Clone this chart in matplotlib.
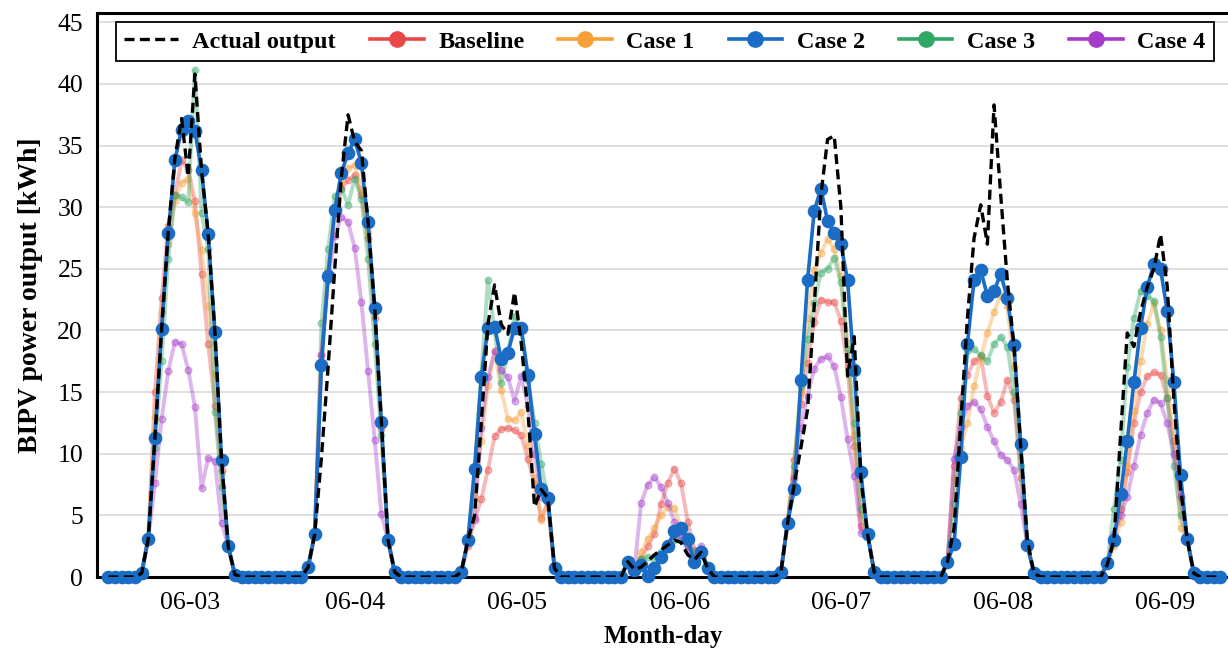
import matplotlib
matplotlib.use("Agg")
import matplotlib.pyplot as plt
from matplotlib.lines import Line2D
import numpy as np

plt.rcParams['font.family'] = ['Liberation Serif', 'DejaVu Serif']

day_labels = ["06-03", "06-04", "06-05", "06-06", "06-07", "06-08", "06-09"]
day_ticks = [12.3, 37.0, 61.3, 85.8, 110.1, 134.4, 158.7]

# hourly BIPV output [kWh], one row per day (00h..23h)
actual = [
    0, 0, 0, 0, 0, 0.3, 3.1, 11.3, 20.1, 28.0, 34.0, 37.2, 32.5, 40.8, 33.0, 27.8, 19.9, 9.5, 2.5, 0.2, 0, 0, 0, 0,
    0, 0, 0, 0, 0, 0, 0.8, 3.5, 9.7, 17.0, 25.0, 32.5, 37.5, 35.3, 34.6, 28.8, 21.8, 12.6, 3.0, 0.4, 0, 0, 0, 0,
    0, 0, 0, 0, 0, 0.4, 3.0, 5.0, 12.5, 20.5, 23.7, 20.5, 19.7, 23.1, 19.0, 13.5, 5.7, 7.1, 6.4, 0.7, 0, 0, 0, 0,
    0, 0, 0, 0, 0, 0, 1.25, 0.6, 0.8, 1.3, 1.8, 2.2, 2.6, 3.0, 2.8, 1.8, 1.4, 2.0, 0.7, 0, 0, 0, 0, 0,
    0, 0, 0, 0, 0, 0.4, 4.4, 7.5, 10.5, 13.6, 22.0, 31.0, 35.5, 35.8, 30.0, 16.3, 19.5, 8.0, 3.5, 0.4, 0, 0, 0, 0,
    0, 0, 0, 0, 0, 0, 1.2, 4.0, 12.5, 21.0, 27.5, 30.2, 27.0, 38.3, 31.0, 24.0, 18.7, 10.6, 3.0, 0.3, 0, 0, 0, 0,
    0, 0, 0, 0, 0, 0, 1.0, 3.0, 11.5, 19.8, 18.7, 21.5, 23.5, 25.0, 27.8, 23.6, 14.4, 7.2, 3.1, 0.3, 0, 0, 0, 0,
]
baseline = [
    0, 0, 0, 0, 0, 0.3, 3.2, 15.0, 22.6, 28.5, 31.0, 33.8, 33.0, 30.5, 24.6, 18.9, 13.9, 8.7, 2.5, 0.2, 0, 0, 0, 0,
    0, 0, 0, 0, 0, 0, 0.8, 3.5, 18.0, 24.5, 29.5, 31.5, 32.2, 32.6, 31.0, 27.5, 21.0, 12.0, 3.0, 0.4, 0, 0, 0, 0,
    0, 0, 0, 0, 0, 0.3, 2.5, 4.6, 6.3, 8.7, 11.4, 12.0, 12.1, 11.9, 11.5, 9.6, 7.5, 4.8, 6.0, 0.7, 0, 0, 0, 0,
    0, 0, 0, 0, 0, 0, 1.25, 0.6, 1.5, 2.5, 3.5, 5.9, 7.6, 8.8, 7.6, 4.5, 2.2, 2.3, 0.7, 0, 0, 0, 0, 0,
    0, 0, 0, 0, 0, 0.4, 4.4, 9.5, 14.0, 17.4, 20.7, 22.5, 22.3, 22.3, 20.8, 17.1, 10.6, 4.1, 3.5, 0.4, 0, 0, 0, 0,
    0, 0, 0, 0, 0, 0, 1.2, 9.0, 14.5, 16.4, 17.5, 17.9, 14.7, 13.3, 14.2, 16.0, 14.4, 8.0, 2.6, 0.3, 0, 0, 0, 0,
    0, 0, 0, 0, 0, 0, 1.1, 3.2, 5.5, 8.5, 12.5, 15.0, 16.3, 16.6, 16.4, 14.5, 11.0, 6.5, 3.1, 0.3, 0, 0, 0, 0,
]
case1 = [
    0, 0, 0, 0, 0, 0.3, 3.2, 13.0, 21.5, 27.0, 30.5, 32.0, 32.3, 29.5, 26.5, 22.0, 16.5, 8.5, 2.5, 0.2, 0, 0, 0, 0,
    0, 0, 0, 0, 0, 0, 0.8, 3.5, 17.5, 24.8, 29.5, 32.0, 33.2, 33.4, 31.5, 28.0, 21.5, 12.5, 3.0, 0.4, 0, 0, 0, 0,
    0, 0, 0, 0, 0, 0.4, 3.0, 6.5, 11.0, 15.5, 18.3, 15.2, 12.8, 12.7, 13.4, 10.6, 8.0, 4.6, 6.0, 0.7, 0, 0, 0, 0,
    0, 0, 0, 0, 0, 0, 1.25, 0.6, 2.0, 3.1, 3.95, 5.0, 5.7, 5.6, 4.0, 2.8, 1.5, 2.2, 0.7, 0, 0, 0, 0, 0,
    0, 0, 0, 0, 0, 0.4, 4.4, 9.5, 15.0, 21.0, 24.9, 26.3, 27.4, 26.6, 24.4, 19.0, 11.5, 5.0, 3.5, 0.4, 0, 0, 0, 0,
    0, 0, 0, 0, 0, 0, 1.2, 8.0, 10.5, 12.5, 15.5, 17.8, 19.8, 21.5, 22.9, 22.0, 17.0, 10.5, 2.6, 0.3, 0, 0, 0, 0,
    0, 0, 0, 0, 0, 0, 1.1, 2.5, 4.5, 9.0, 13.5, 17.5, 20.5, 22.2, 20.0, 16.0, 11.0, 4.0, 3.1, 0.3, 0, 0, 0, 0,
]
case2 = [
    0, 0, 0, 0, 0, 0.3, 3.1, 11.3, 20.1, 27.9, 33.8, 36.3, 37.0, 36.2, 33.0, 27.8, 19.9, 9.5, 2.5, 0.2, 0, 0, 0, 0,
    0, 0, 0, 0, 0, 0, 0.8, 3.5, 17.2, 24.4, 29.8, 32.8, 34.4, 35.5, 33.6, 28.8, 21.8, 12.6, 3.0, 0.4, 0, 0, 0, 0,
    0, 0, 0, 0, 0, 0.4, 3.0, 8.8, 16.2, 20.2, 20.3, 17.7, 18.2, 20.2, 20.2, 16.4, 11.6, 7.1, 6.4, 0.7, 0, 0, 0, 0,
    0, 0, 0, 0, 0, 0, 1.25, 0.6, 1.0, 0.1, 0.75, 1.65, 2.5, 3.7, 4.0, 3.1, 1.2, 2.05, 0.7, 0, 0, 0, 0, 0,
    0, 0, 0, 0, 0, 0.4, 4.4, 7.1, 16.0, 24.1, 29.7, 31.5, 28.9, 27.9, 27.0, 24.1, 16.8, 8.5, 3.5, 0.4, 0, 0, 0, 0,
    0, 0, 0, 0, 0, 0, 1.2, 2.7, 9.7, 18.9, 24.1, 24.9, 22.8, 23.2, 24.6, 22.6, 18.8, 10.8, 2.6, 0.3, 0, 0, 0, 0,
    0, 0, 0, 0, 0, 0, 1.1, 3.0, 6.7, 11.0, 15.8, 20.2, 23.5, 25.4, 25.0, 21.6, 15.8, 8.3, 3.1, 0.3, 0, 0, 0, 0,
]
case3 = [
    0, 0, 0, 0, 0, 0.3, 3.2, 10.5, 17.5, 25.8, 31.0, 30.8, 30.4, 41.1, 29.5, 26.6, 13.4, 7.3, 2.5, 0.2, 0, 0, 0, 0,
    0, 0, 0, 0, 0, 0, 0.8, 3.5, 20.6, 26.6, 30.9, 31.5, 30.2, 32.3, 30.7, 25.8, 18.9, 11.5, 3.0, 0.4, 0, 0, 0, 0,
    0, 0, 0, 0, 0, 0.4, 3.0, 8.5, 16.5, 24.1, 20.0, 15.7, 18.2, 21.2, 20.0, 16.0, 12.5, 9.2, 6.4, 0.7, 0, 0, 0, 0,
    0, 0, 0, 0, 0, 0, 1.25, 0.6, 1.5, 1.6, 1.5, 2.0, 2.5, 3.0, 3.0, 2.5, 2.0, 2.3, 0.7, 0, 0, 0, 0, 0,
    0, 0, 0, 0, 0, 0.4, 4.4, 9.0, 15.5, 19.3, 22.2, 24.7, 25.0, 25.9, 23.9, 18.5, 12.5, 5.5, 3.5, 0.4, 0, 0, 0, 0,
    0, 0, 0, 0, 0, 0, 1.2, 6.0, 13.3, 18.3, 18.5, 18.0, 17.5, 18.9, 19.5, 18.7, 15.0, 9.0, 2.6, 0.3, 0, 0, 0, 0,
    0, 0, 0, 0, 0, 0, 1.1, 5.5, 9.5, 17.0, 21.0, 23.2, 22.8, 22.4, 19.5, 14.5, 9.0, 5.0, 3.1, 0.3, 0, 0, 0, 0,
]
case4 = [
    0, 0, 0, 0, 0, 0.3, 3.1, 7.6, 12.8, 16.7, 19.1, 18.9, 16.8, 13.8, 7.2, 9.65, 9.4, 4.4, 2.5, 0.2, 0, 0, 0, 0,
    0, 0, 0, 0, 0, 0, 0.8, 3.5, 18.0, 24.1, 27.7, 29.2, 28.8, 26.7, 22.3, 16.7, 11.1, 5.1, 3.0, 0.4, 0, 0, 0, 0,
    0, 0, 0, 0, 0, 0.4, 3.0, 4.8, 12.1, 16.2, 18.3, 16.8, 16.2, 14.3, 16.3, 13.9, 10.0, 6.5, 6.4, 0.7, 0, 0, 0, 0,
    0, 0, 0, 0, 0, 0, 1.25, 0.6, 6.0, 7.5, 8.1, 7.3, 6.0, 4.5, 3.2, 2.2, 1.6, 2.5, 0.7, 0, 0, 0, 0, 0,
    0, 0, 0, 0, 0, 0.4, 4.4, 8.0, 12.1, 14.7, 16.9, 17.7, 17.9, 17.1, 14.6, 11.2, 8.2, 3.6, 3.5, 0.4, 0, 0, 0, 0,
    0, 0, 0, 0, 0, 0, 1.2, 9.6, 12.2, 13.9, 14.2, 13.6, 12.2, 11.0, 9.9, 9.5, 8.7, 5.9, 2.6, 0.3, 0, 0, 0, 0,
    0, 0, 0, 0, 0, 0, 1.1, 3.5, 5.0, 6.5, 9.0, 11.5, 13.3, 14.4, 14.1, 12.5, 10.0, 6.5, 3.1, 0.3, 0, 0, 0, 0,
]

hours = np.arange(len(case2))

c_base = "#E84848"
c_case1 = "#F8A038"
c_case2 = "#1A6CC4"
c_case3 = "#2EA864"
c_case4 = "#A63CCB"

fig = plt.figure(figsize=(12.28, 6.49), dpi=100)
ax = fig.add_axes([97 / 1228, 1 - 577 / 649, 1 - 97 / 1228 + 0.002, (577 - 13) / 649])

faint = dict(lw=2.8, marker="o", ms=4.8, alpha=0.38, zorder=3)
ax.plot(hours, baseline, color=c_base, **faint)
ax.plot(hours, case1, color=c_case1, **faint)
ax.plot(hours, case2, color=c_case2, lw=2.6, marker="o", ms=8.8, zorder=4, clip_on=False)
ax.plot(hours, case3, color=c_case3, **faint)
ax.plot(hours, case4, color=c_case4, **faint)
ax.plot(hours, actual, color="black", lw=2.4, ls=(0, (3, 1.6)), zorder=6)

ax.set_xlim(-1.7, 168.5)
ax.set_ylim(0, 45.76)
ax.set_yticks(np.arange(0, 46, 5))
ax.set_xticks(day_ticks)
ax.set_xticklabels(day_labels)
ax.tick_params(axis="both", length=0, labelsize=18.5)
ax.tick_params(axis="x", pad=11)
ax.tick_params(axis="y", pad=10)
ax.yaxis.grid(True, color="#D9D9D9", lw=1.2)
ax.set_axisbelow(True)

for side in ["left", "bottom", "top"]:
    ax.spines[side].set_linewidth(2.2)
    ax.spines[side].set_color("black")
ax.spines["right"].set_visible(False)

ax.set_xlabel("Month-day", fontsize=18, fontweight="bold", labelpad=8)
ax.set_ylabel("BIPV power output [kWh]", fontsize=20, fontweight="bold", labelpad=10)

handles = [
    Line2D([], [], color="black", lw=2.4, ls=(0, (3, 1.6))),
    Line2D([], [], color=c_base, lw=2.6, marker="o", ms=11),
    Line2D([], [], color=c_case1, lw=2.6, marker="o", ms=11),
    Line2D([], [], color=c_case2, lw=2.6, marker="o", ms=11),
    Line2D([], [], color=c_case3, lw=2.6, marker="o", ms=11),
    Line2D([], [], color=c_case4, lw=2.6, marker="o", ms=11),
]
labels = ["Actual output", "Baseline", "Case 1", "Case 2", "Case 3", "Case 4"]
leg = ax.legend(handles, labels, loc="upper center", bbox_to_anchor=(0.501, 0.984), ncol=6,
                frameon=True, fancybox=False, edgecolor="black", framealpha=1,
                prop={"weight": "bold", "size": 17.5}, handlelength=2.2, handletextpad=0.6,
                columnspacing=1.4, borderpad=0.35, borderaxespad=0)
leg.get_frame().set_linewidth(1.3)
leg.set_zorder(10)

fig.savefig("out.png", dpi=100)
